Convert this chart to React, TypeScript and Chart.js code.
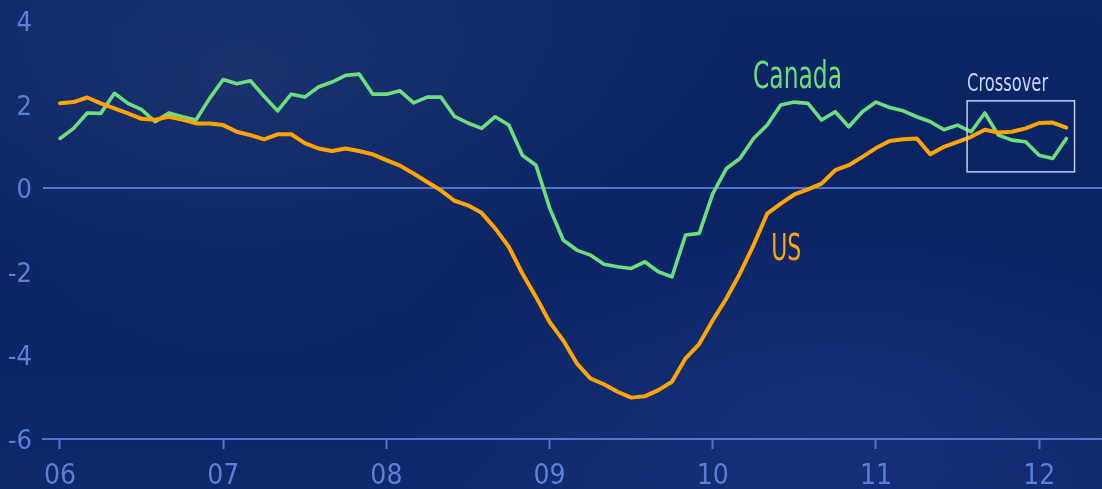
import { useEffect, useRef } from 'react';
import { Chart, registerables } from 'chart.js';

Chart.register(...registerables);

// Monthly values starting January 2006 (index = months since Jan 2006)
const canada: number[] = [
  1.19, 1.43, 1.80, 1.79, 2.27, 2.03, 1.88, 1.59, 1.80, 1.71, 1.63, 2.15,
  2.60, 2.50, 2.57, 2.20, 1.85, 2.25, 2.18, 2.42, 2.54, 2.70, 2.73, 2.25,
  2.25, 2.33, 2.04, 2.18, 2.18, 1.72, 1.56, 1.43, 1.71, 1.51, 0.79, 0.55,
  -0.47, -1.24, -1.48, -1.60, -1.82, -1.88, -1.92, -1.76, -2.00, -2.12, -1.12, -1.08,
  -0.13, 0.47, 0.71, 1.19, 1.51, 1.99, 2.06, 2.03, 1.63, 1.83, 1.47, 1.83,
  2.06, 1.93, 1.85, 1.71, 1.59, 1.40, 1.51, 1.35, 1.80, 1.27, 1.15, 1.11,
  0.79, 0.71, 1.19,
];

const us: number[] = [
  2.03, 2.06, 2.17, 2.03, 1.91, 1.79, 1.66, 1.64, 1.71, 1.64, 1.55, 1.55,
  1.51, 1.35, 1.27, 1.17, 1.29, 1.29, 1.08, 0.95, 0.89, 0.95, 0.89, 0.81,
  0.67, 0.54, 0.35, 0.15, -0.05, -0.30, -0.41, -0.59, -0.96, -1.40, -2.04, -2.60,
  -3.20, -3.64, -4.19, -4.55, -4.69, -4.87, -5.01, -4.98, -4.83, -4.63, -4.07, -3.73,
  -3.16, -2.64, -2.04, -1.36, -0.61, -0.37, -0.15, -0.03, 0.11, 0.43, 0.55, 0.75,
  0.96, 1.13, 1.17, 1.19, 0.81, 0.99, 1.11, 1.23, 1.40, 1.33, 1.35, 1.43,
  1.56, 1.57, 1.45,
];

const yearLabels: string[] = ['06', '07', '08', '09', '10', '11', '12'];
const yTicks: number[] = [-6, -4, -2, 0, 2, 4];

const FONT = '"Liberation Sans Narrow", "DejaVu Sans Condensed", "Roboto", sans-serif';
const AXIS_BLUE = '#4f75cc';
const LABEL_BLUE = '#5a80d8';
const GREEN = '#6cdf7c';
const ORANGE = '#ffa500';

// Annotation placement in data coordinates (month index, value)
const seriesLabels = [
  { text: 'Canada', month: 50.96, value: 2.39, color: GREEN, size: 37, width: 89 },
  { text: 'US', month: 52.3, value: -1.72, color: ORANGE, size: 37, width: 30 },
  { text: 'Crossover', month: 66.7, value: 2.32, color: '#c8d3f6', size: 24, width: 81 },
];
const crossoverBox = { m0: 66.7, m1: 74.6, v0: 0.39, v1: 2.09 };

const toPoints = (arr: number[]) => arr.map((v, i) => ({ x: i, y: v }));

const annotationPlugin = {
  id: 'annotations',
  afterDatasetsDraw(chart: any) {
    const { ctx, scales } = chart;
    const x = scales.x;
    const y = scales.y;
    ctx.save();
    const bx0 = x.getPixelForValue(crossoverBox.m0);
    const bx1 = x.getPixelForValue(crossoverBox.m1);
    const by0 = y.getPixelForValue(crossoverBox.v1);
    const by1 = y.getPixelForValue(crossoverBox.v0);
    ctx.strokeStyle = '#c5cdee';
    ctx.lineWidth = 1.5;
    ctx.strokeRect(bx0, by0, bx1 - bx0, by1 - by0);
    for (const l of seriesLabels) {
      const px = x.getPixelForValue(l.month);
      const py = y.getPixelForValue(l.value);
      ctx.font = `${l.size}px ${FONT}`;
      ctx.textBaseline = 'alphabetic';
      ctx.textAlign = 'left';
      const w = ctx.measureText(l.text).width;
      const sx = w > 0 ? l.width / w : 1;
      ctx.save();
      ctx.translate(px, py);
      ctx.scale(sx, 1);
      ctx.fillStyle = l.color;
      ctx.fillText(l.text, 0, 0);
      ctx.restore();
    }
    ctx.restore();
  },
};

export default function App() {
  const canvasRef = useRef<HTMLCanvasElement | null>(null);

  useEffect(() => {
    document.body.style.margin = '0';
    const canvas = canvasRef.current;
    if (!canvas) return;
    const chart = new Chart(canvas, {
      type: 'line',
      data: {
        datasets: [
          {
            label: 'US',
            data: toPoints(us),
            borderColor: ORANGE,
            borderWidth: 4,
            pointRadius: 0,
            tension: 0,
            fill: false,
            order: 0,
            borderJoinStyle: 'round',
            borderCapStyle: 'round',
          },
          {
            label: 'Canada',
            data: toPoints(canada),
            borderColor: GREEN,
            borderWidth: 3.6,
            pointRadius: 0,
            tension: 0,
            fill: false,
            order: 1,
            borderJoinStyle: 'round',
            borderCapStyle: 'round',
          },
        ],
      },
      options: {
        animation: false,
        responsive: true,
        maintainAspectRatio: false,
        layout: { padding: { top: 21, left: 0, right: 0, bottom: 0 } },
        plugins: {
          legend: { display: false },
          tooltip: { enabled: false },
        },
        scales: {
          x: {
            type: 'linear',
            min: -1.25,
            max: 76.62,
            afterBuildTicks: (scale: any) => {
              scale.ticks = yearLabels.map((_, i) => ({ value: i * 12 }));
            },
            afterFit: (scale: any) => {
              scale.height = 50;
            },
            ticks: {
              color: LABEL_BLUE,
              font: { family: FONT, size: 28 },
              padding: 11,
              maxRotation: 0,
              autoSkip: false,
              callback: (v: any) => yearLabels[Math.round(Number(v) / 12)] ?? '',
            },
            grid: {
              drawOnChartArea: false,
              drawTicks: true,
              tickLength: 10,
              tickColor: AXIS_BLUE,
              tickWidth: 2,
            },
            border: { display: true, color: AXIS_BLUE, width: 2 },
          },
          y: {
            type: 'linear',
            min: -6,
            max: 4,
            afterBuildTicks: (scale: any) => {
              scale.ticks = yTicks.map((v) => ({ value: v }));
            },
            afterFit: (scale: any) => {
              scale.width = 43;
            },
            ticks: {
              color: LABEL_BLUE,
              font: { family: FONT, size: 27 },
              padding: 0,
              labelOffset: 3,
              autoSkip: false,
            },
            grid: {
              drawTicks: true,
              tickLength: 11,
              tickColor: 'rgba(0,0,0,0)',
              lineWidth: 2,
              color: (c: any) => (c.tick && c.tick.value === 0 ? AXIS_BLUE : 'rgba(0,0,0,0)'),
            },
            border: { display: false },
          },
        },
      },
      plugins: [annotationPlugin],
    });
    return () => chart.destroy();
  }, []);

  return (
    <div
      style={{
        position: 'fixed',
        left: 0,
        top: 0,
        width: 1102,
        height: 489,
        overflow: 'hidden',
        background:
          'radial-gradient(ellipse 45% 60% at 22% 15%, rgba(40,62,120,0.5) 0%, rgba(40,62,120,0) 100%), radial-gradient(ellipse 40% 50% at 75% 85%, rgba(30,60,140,0.45) 0%, rgba(30,60,140,0) 100%), linear-gradient(180deg, #0d2666 0%, #0a2262 50%, #0f296b 100%)',
      }}
    >
      <canvas ref={canvasRef} width={1102} height={489} />
    </div>
  );
}
